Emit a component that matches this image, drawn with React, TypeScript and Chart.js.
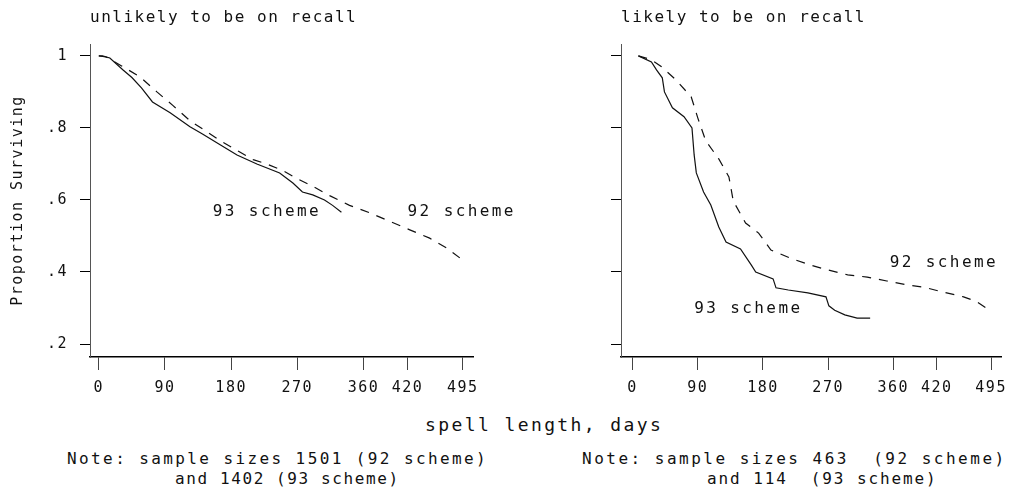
import { useEffect, useRef } from "react";
import { Chart, registerables } from "chart.js";

Chart.register(...registerables);

const FONT = "'DejaVu Sans Mono', monospace";
const INK = "#111";

// Kaplan–Meier survival estimates by spell length (days)
const unlikelyDays92 = [0, 10, 31, 56, 79, 101, 124, 145, 165, 190, 210, 228, 250, 269, 291, 314, 341, 369, 392, 423, 450, 473, 495];
const unlikelySurv92 = [1, 0.997, 0.972, 0.942, 0.9, 0.862, 0.82, 0.792, 0.765, 0.735, 0.712, 0.7, 0.682, 0.66, 0.638, 0.612, 0.585, 0.564, 0.544, 0.517, 0.494, 0.467, 0.433];

const unlikelyDays93 = [0, 5, 15, 33, 45, 58, 73, 97, 124, 141, 165, 188, 215, 246, 264, 277, 291, 307, 318, 330];
const unlikelySurv93 = [1, 1, 0.994, 0.961, 0.94, 0.911, 0.872, 0.842, 0.803, 0.783, 0.753, 0.725, 0.7, 0.675, 0.647, 0.622, 0.614, 0.6, 0.585, 0.566];

const likelyDays92 = [8, 25, 40, 60, 81, 90, 101, 119, 133, 139, 156, 174, 191, 217, 246, 269, 297, 324, 351, 379, 402, 429, 457, 475, 488];
const likelySurv92 = [1, 0.99, 0.97, 0.933, 0.886, 0.828, 0.764, 0.714, 0.664, 0.597, 0.536, 0.508, 0.461, 0.439, 0.419, 0.406, 0.392, 0.386, 0.375, 0.364, 0.358, 0.344, 0.331, 0.318, 0.3];

const likelyDays93 = [8, 26, 33, 41, 44, 55, 71, 82, 85, 88, 98, 108, 119, 129, 149, 164, 170, 194, 198, 215, 242, 267, 271, 279, 293, 310, 328];
const likelySurv93 = [1, 0.983, 0.961, 0.939, 0.9, 0.856, 0.831, 0.8, 0.725, 0.675, 0.622, 0.586, 0.525, 0.483, 0.464, 0.419, 0.4, 0.381, 0.356, 0.35, 0.342, 0.331, 0.306, 0.294, 0.281, 0.272, 0.272];

const xTickValues = [0, 90, 180, 270, 360, 420, 495];
const yTickValues = [0.2, 0.4, 0.6, 0.8, 1];
const yTickLabels = [".2", ".4", ".6", ".8", "1"];

const scheme92 = "92 scheme";
const scheme93 = "93 scheme";
const yAxisTitle = "Proportion Surviving";
const xAxisTitle = "spell length, days";

type CurveLabel = { text: string; day: number; surv: number };

type PanelSpec = {
  title: string;
  days92: number[];
  surv92: number[];
  days93: number[];
  surv93: number[];
  xMin: number;
  xMax: number;
  yAxisWidth: number;
  canvasWidth: number;
  padRight: number;
  showYLabels: boolean;
  labels: CurveLabel[];
};

const panels: PanelSpec[] = [
  {
    title: "unlikely to be on recall",
    days92: unlikelyDays92,
    surv92: unlikelySurv92,
    days93: unlikelyDays93,
    surv93: unlikelySurv93,
    xMin: -12,
    xMax: 509,
    yAxisWidth: 90,
    canvasWidth: 560,
    padRight: 87,
    showYLabels: true,
    labels: [
      { text: scheme93, day: 155, surv: 0.567 },
      { text: scheme92, day: 420, surv: 0.567 },
    ],
  },
  {
    title: "likely to be on recall",
    days92: likelyDays92,
    surv92: likelySurv92,
    days93: likelyDays93,
    surv93: likelySurv93,
    xMin: -16,
    xMax: 510,
    yAxisWidth: 114,
    canvasWidth: 507,
    padRight: 8,
    showYLabels: false,
    labels: [
      { text: scheme92, day: 355, surv: 0.425 },
      { text: scheme93, day: 85, surv: 0.297 },
    ],
  },
];

const toPoints = (days: number[], surv: number[]) => days.map((d, i) => ({ x: d, y: surv[i] }));

// Wide, plotter-like spacing for all canvas text
const spacingPlugin = {
  id: "letterSpacing",
  beforeDraw(chart: any) {
    chart.ctx.letterSpacing = "1.5px";
  },
};

// Names written next to each curve, placed in data coordinates
const curveLabelPlugin = {
  id: "curveLabels",
  afterDatasetsDraw(chart: any, _args: any, opts: any) {
    const { ctx } = chart;
    const x = chart.scales.x;
    const y = chart.scales.y;
    ctx.save();
    ctx.font = `16px ${FONT}`;
    ctx.letterSpacing = "2.4px";
    ctx.fillStyle = INK;
    ctx.textAlign = "left";
    ctx.textBaseline = "middle";
    for (const l of opts.items as CurveLabel[]) {
      ctx.fillText(l.text, x.getPixelForValue(l.day), y.getPixelForValue(l.surv));
    }
    ctx.restore();
  },
};

function SurvivalPanel({ spec, left }: { spec: PanelSpec; left: number }) {
  const ref = useRef<HTMLCanvasElement>(null);

  useEffect(() => {
    const chart = new Chart(ref.current as HTMLCanvasElement, {
      type: "line",
      data: {
        datasets: [
          {
            label: scheme92,
            data: toPoints(spec.days92, spec.surv92),
            borderColor: INK,
            borderWidth: 1.2,
            borderDash: [9, 8],
            pointRadius: 0,
            tension: 0,
            fill: false,
          },
          {
            label: scheme93,
            data: toPoints(spec.days93, spec.surv93),
            borderColor: INK,
            borderWidth: 1.2,
            pointRadius: 0,
            tension: 0,
            fill: false,
          },
        ],
      },
      options: {
        animation: false,
        responsive: false,
        events: [],
        layout: { padding: { left: 0, right: spec.padRight, top: 0, bottom: 0 } },
        plugins: {
          legend: { display: false },
          tooltip: { enabled: false },
          title: {
            display: true,
            text: spec.title,
            align: "start",
            fullSize: false,
            color: INK,
            font: { family: FONT, size: 16, weight: "normal", lineHeight: 1.25 },
            padding: { top: 8, bottom: 16 },
          },
          curveLabels: { items: spec.labels },
        } as any,
        scales: {
          x: {
            type: "linear",
            min: spec.xMin,
            max: spec.xMax,
            afterBuildTicks: (s: any) => {
              s.ticks = xTickValues.map((v) => ({ value: v }));
            },
            afterFit: (s: any) => {
              s.height = 43;
            },
            ticks: {
              autoSkip: false,
              maxRotation: 0,
              padding: 9,
              color: INK,
              font: { family: FONT, size: 15 },
              callback: (v: any) => String(v),
            },
            grid: { drawOnChartArea: false, tickLength: 13, color: "#444" },
            border: { color: "#000", width: 1.5 },
          },
          y: {
            type: "linear",
            min: 0.164,
            max: 1.033,
            afterBuildTicks: (s: any) => {
              s.ticks = yTickValues.map((v) => ({ value: v }));
            },
            afterFit: (s: any) => {
              s.width = spec.yAxisWidth;
            },
            ticks: {
              display: spec.showYLabels,
              padding: 12,
              color: INK,
              font: { family: FONT, size: 15 },
              callback: (v: any) => yTickLabels[yTickValues.indexOf(v)],
            },
            grid: { drawOnChartArea: false, tickLength: 10, color: "#000" },
            border: { color: "#555", width: 1, dash: [2, 3] },
            title: {
              display: spec.showYLabels,
              text: yAxisTitle,
              color: INK,
              font: { family: FONT, size: 15, lineHeight: 1.2 },
              padding: { top: 9, bottom: 0 },
            },
          },
        },
      },
      plugins: [spacingPlugin, curveLabelPlugin],
    });
    return () => chart.destroy();
  }, [spec]);

  return (
    <canvas
      ref={ref}
      width={spec.canvasWidth}
      height={400}
      style={{ position: "absolute", left, top: 0, width: spec.canvasWidth, height: 400, display: "block" }}
    />
  );
}

const noteStyle = (left: number, top: number, spacing: number): React.CSSProperties => ({
  position: "absolute",
  left,
  top,
  fontSize: 16,
  lineHeight: "20px",
  letterSpacing: `${spacing}px`,
  whiteSpace: "pre",
});

export default function App() {
  return (
    <div
      style={{
        position: "absolute",
        left: 0,
        top: 0,
        width: 1014,
        height: 490,
        background: "#fff",
        fontFamily: FONT,
        color: INK,
        overflow: "hidden",
      }}
    >
      <SurvivalPanel spec={panels[0]} left={0} />
      <SurvivalPanel spec={panels[1]} left={507} />
      <div
        style={{
          position: "absolute",
          left: 425,
          top: 414,
          fontSize: 18,
          lineHeight: "22px",
          letterSpacing: "2.4px",
          whiteSpace: "pre",
        }}
      >
        {xAxisTitle}
      </div>
      <div style={noteStyle(67, 449, 2.4)}>{"Note: sample sizes 1501 (92 scheme)"}</div>
      <div style={noteStyle(175, 469, 1.6)}>{"and 1402 (93 scheme)"}</div>
      <div style={noteStyle(582, 449, 2.5)}>{"Note: sample sizes 463  (92 scheme)"}</div>
      <div style={noteStyle(707, 469, 1.9)}>{"and 114  (93 scheme)"}</div>
    </div>
  );
}
